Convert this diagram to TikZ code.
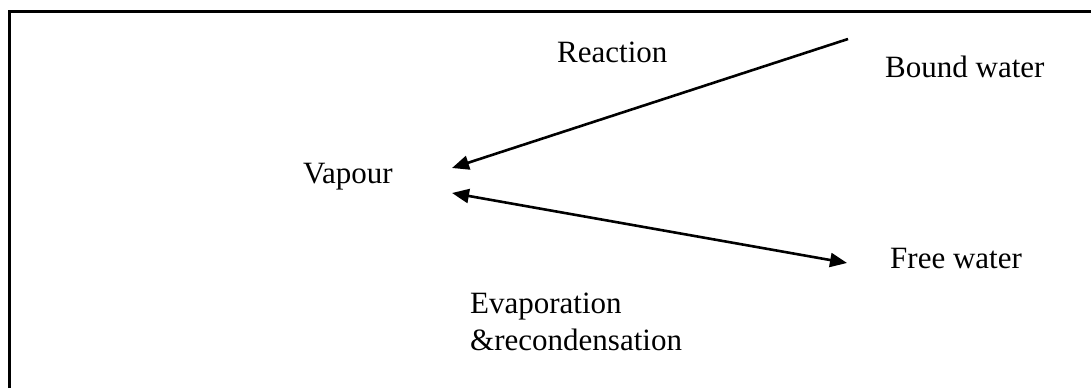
\documentclass[tikz,border=0pt]{standalone}
\usepackage{fontspec}
\setmainfont{Liberation Serif}
\usetikzlibrary{arrows.meta}
\begin{document}
\begin{tikzpicture}[x=1pt,y=-1pt,
  lbl/.style={anchor=base west,inner sep=0pt,font=\fontsize{31}{37}\selectfont},
  arr/.style={line width=2.6pt,-{Triangle[length=17pt,width=14pt]}},
  darr/.style={line width=2.6pt,{Triangle[length=17pt,width=14pt]}-{Triangle[length=17pt,width=14pt]}},
  frame/.style={line width=2.2pt}]
\useasboundingbox (0,0) rectangle (1091,388);
\draw[frame] (9.5,388) -- (9.5,11.5) -- (1091,11.5);
\node[lbl] (reaction) at (557,62) {Reaction};
\node[lbl] (bound) at (885,77) {Bound water};
\node[lbl] (vapour) at (303,183) {Vapour};
\node[lbl] (free) at (890,268) {Free water};
\node[lbl] (evap) at (470,313) {Evaporation};
\node[lbl] (recond) at (470,350) {\&recondensation};
\coordinate (bstart) at (848,39);
\coordinate (vtop) at (452,168);
\coordinate (vbot) at (452,193);
\coordinate (fend) at (847,263);
\draw[arr] (bstart) -- (vtop);
\draw[darr] (vbot) -- (fend);
\end{tikzpicture}
\end{document}
